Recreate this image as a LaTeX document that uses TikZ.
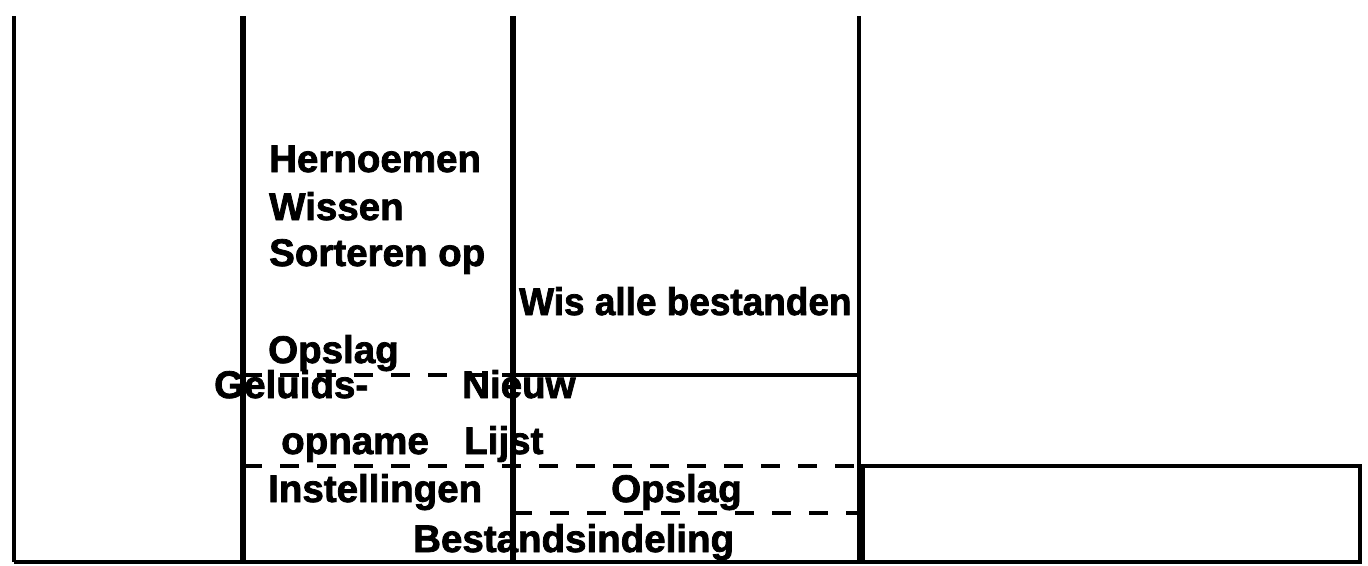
\documentclass[tikz,border=0pt]{standalone}
\usepackage{fontspec}
\setmainfont{Liberation Sans}[BoldFeatures={FakeBold=2}]
\usetikzlibrary{positioning}

\begin{document}
\begin{tikzpicture}[
    x=1pt, y=-1pt,
    menutext/.style={anchor=base west, inner sep=0pt, font=\fontsize{38.5}{46}\selectfont\bfseries},
    thinline/.style={line width=3.5pt},
    thickline/.style={line width=5.5pt},
    dashline/.style={line width=4pt, dash pattern=on 19pt off 18pt}
]
\useasboundingbox (0,0) rectangle (1368,565);

% column borders
\coordinate (c0top) at (14,16);   \coordinate (c0bot) at (14,562);
\coordinate (c1top) at (243,16);  \coordinate (c1bot) at (243,562);
\coordinate (c2top) at (513,16);  \coordinate (c2bot) at (513,562);
\coordinate (c3top) at (859,16);  \coordinate (c3bot) at (859,562);

% menu entries
\node[menutext] (hern) at (269,172) {Hernoemen};
\node[menutext] (wissen) at (269,220) {Wissen};
\node[menutext] (sort) at (269,266) {Sorteren op};
\node[menutext, xscale=0.96] (wisalle) at (519,315) {Wis alle bestanden};
\node[menutext] (opslagA) at (268,363) {Opslag};
\node[menutext] (geluid) at (214,398) {Geluids-};
\node[menutext] (nieuw) at (462,398) {Nieuw};
\node[menutext] (opname) at (281,454) {opname};
\node[menutext] (lijst) at (464,454) {Lijst};
\node[menutext] (instel) at (268,502) {Instellingen};
\node[menutext] (opslagB) at (611,502) {Opslag};
\node[menutext] (indeling) at (413,552) {Bestandsindeling};

% vertical lines
\draw[thinline] (c0top) -- (c0bot);
\draw[thickline] (c1top) -- (c1bot);
\draw[thickline] (c2top) -- (c2bot);
\draw[thinline] (c3top) -- (c3bot);

% separators
\draw[thinline] (513,375) -- (859,375);
\draw[dashline] (243,375) -- (513,375);
\draw[dashline] (243,466) -- (859,466);
\draw[dashline] (513,513) -- (859,513);

% bottom line and empty box
\draw[thinline] (c0bot) -- (863,562);
\draw[thinline] (863,466) rectangle (1360,562);
\end{tikzpicture}
\end{document}
